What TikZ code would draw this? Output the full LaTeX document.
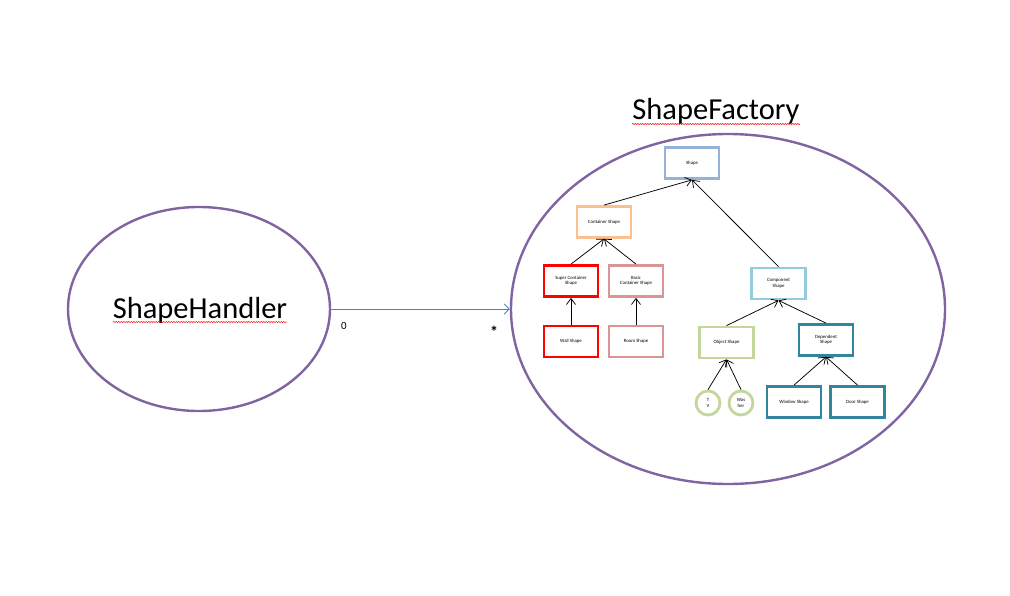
\documentclass[tikz,border=0pt]{standalone}
\usepackage{fontspec}
\setmainfont{Carlito}
\usetikzlibrary{shapes.geometric,arrows.meta,decorations.pathmorphing}
\definecolor{purp}{RGB}{128,100,162}
\definecolor{arrblue}{RGB}{79,129,189}
\definecolor{cshape}{RGB}{149,179,215}
\definecolor{corange}{RGB}{250,192,144}
\definecolor{cred}{RGB}{255,0,0}
\definecolor{cpink}{RGB}{217,150,148}
\definecolor{clblue}{RGB}{147,205,221}
\definecolor{cgreen}{RGB}{195,214,155}
\definecolor{cteal}{RGB}{49,133,156}
\tikzset{
  bigell/.style={ellipse, draw=purp, line width=2.4pt, inner sep=0pt},
  cls/.style={draw=#1, line width=2.8pt, fill=white, inner sep=0pt, minimum width=54pt, minimum height=31pt, align=center, font=\fontsize{4.8}{5.4}\selectfont},
  circ/.style={circle, draw=cgreen, line width=2.8pt, inner sep=0pt, minimum size=24pt, align=center, font=\fontsize{4.8}{5.4}\selectfont},
  inh/.style={draw=black, line width=0.75pt, -{Straight Barb[length=6pt,width=9pt]}},
  spell/.style={draw=red, line width=0.5pt, decorate, decoration={snake, amplitude=0.6pt, segment length=2.5pt}},
}
\begin{document}
\begin{tikzpicture}[x=1pt,y=-1pt]
\useasboundingbox (0,0) rectangle (1010,596);
% big ellipses
\node[bigell, minimum width=262pt, minimum height=204pt] (handler) at (199,309) {};
\node[bigell, minimum width=434pt, minimum height=350pt] (factory) at (728,309) {};
\node[font=\fontsize{30.5}{33}\selectfont] (handlert) at (200,310) {ShapeHandler};
\node[font=\fontsize{30.5}{33}\selectfont] (factoryt) at (716,111) {ShapeFactory};
\coordinate (hu1) at (113,322); \coordinate (hu2) at (287,322);
\coordinate (fu1) at (632,124); \coordinate (fu2) at (800,124);
\path[spell] (hu1) -- (hu2);
\path[spell] (fu1) -- (fu2);
% association
\draw[draw=arrblue, line width=0.8pt, -{Straight Barb[length=5pt,width=10pt]}] (handler.east) -- (factory.west);
\node[font=\fontsize{11}{12}\selectfont] (zero) at (344,326) {0};
\node[font=\fontsize{16}{16}\selectfont\bfseries] (star) at (494,332) {*};
% class boxes
\node[cls=cshape] (shape) at (692,163) {Shape};
\node[cls=corange] (container) at (604,222) {Container Shape};
\node[cls=cred] (super) at (571,281) {Super Container\\Shape};
\node[cls=cpink] (basic) at (636,281) {Basic\\Container Shape};
\node[cls=cred] (wall) at (571,341.5) {Wall Shape};
\node[cls=cpink] (room) at (636,341.5) {Room Shape};
\node[cls=clblue] (component) at (778.5,283.5) {Component\\Shape};
\node[cls=cgreen] (object) at (726.5,342.5) {Object Shape};
\node[cls=cteal] (dependent) at (826,340) {Dependent\\Shape};
\node[circ] (tv) at (708,403) {T\\V};
\node[circ] (washer) at (741,403) {Was\\her};
\node[cls=cteal] (window) at (794,402) {Window Shape};
\node[cls=cteal] (door) at (857.5,402) {Door Shape};
% inheritance arrows
\draw[inh] (container.north) -- (shape.south);
\draw[inh] (component.north) -- (shape.south);
\draw[inh] (super.north) -- (container.south);
\draw[inh] (basic.north) -- (container.south);
\draw[inh] (wall.north) -- (super.south);
\draw[inh] (room.north) -- (basic.south);
\draw[inh] (object.north) -- (component.south);
\draw[inh] (dependent.north) -- (component.south);
\draw[inh] (tv.north) -- (object.south);
\draw[inh] (washer.north) -- (object.south);
\draw[inh] (window.north) -- (dependent.south);
\draw[inh] (door.north) -- (dependent.south);
\end{tikzpicture}
\end{document}
